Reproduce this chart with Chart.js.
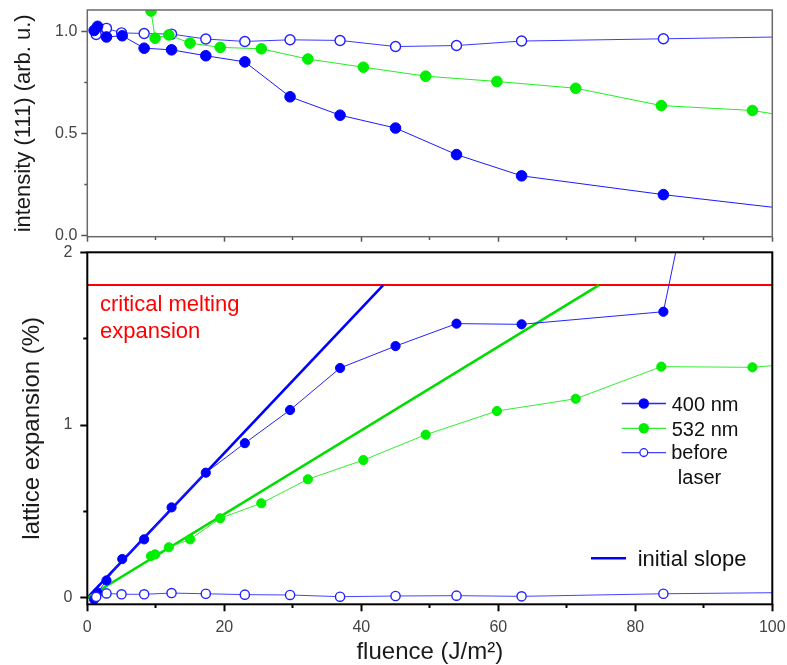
<!DOCTYPE html>
<html>
<head>
<meta charset="utf-8">
<script src="https://cdn.jsdelivr.net/npm/chart.js@4.4.1/dist/chart.umd.min.js"></script>
<style>
  html, body { margin: 0; padding: 0; background: #ffffff; }
  #wrap { position: relative; width: 787px; height: 665px; background: #ffffff; }
  #wrap canvas { position: absolute; left: 0; top: 0; }
</style>
</head>
<body>
<div id="wrap">
  <canvas id="topChart" width="787" height="665"></canvas>
  <canvas id="bottomChart" width="787" height="665"></canvas>
</div>
<script>
// ---------------- data ----------------
const fluence400   = [1.0, 1.5, 2.8, 5.1, 8.3, 12.3, 17.3, 23.0, 29.6, 36.9, 45.0, 53.9, 63.4, 84.1, 105];
const intensity400 = [1.005, 1.025, 0.973, 0.979, 0.918, 0.910, 0.881, 0.851, 0.680, 0.590, 0.527, 0.397, 0.293, 0.201, 0.12];
const expansion400 = [-0.01, 0.03, 0.10, 0.224, 0.338, 0.523, 0.724, 0.895, 1.087, 1.33, 1.457, 1.587, 1.583, 1.656, 5.65];

const fluence532   = [9.3, 9.9, 11.9, 15.0, 19.4, 25.4, 32.2, 40.3, 49.4, 59.8, 71.3, 83.8, 97.1, 105];
const intensity532 = [1.10, 0.967, 0.983, 0.943, 0.922, 0.915, 0.865, 0.825, 0.781, 0.755, 0.722, 0.637, 0.613, 0.57];
const expansion532 = [0.241, 0.251, 0.292, 0.338, 0.46, 0.547, 0.686, 0.797, 0.944, 1.081, 1.152, 1.338, 1.334, 1.36];

const fluenceBefore   = [1.3, 2.8, 5.0, 8.3, 12.3, 17.3, 23.0, 29.6, 36.9, 45.0, 53.9, 63.4, 84.1, 105];
const intensityBefore = [0.985, 1.015, 0.993, 0.99, 0.987, 0.963, 0.951, 0.959, 0.956, 0.926, 0.931, 0.953, 0.964, 0.975];
const expansionBefore = [0.005, 0.025, 0.02, 0.02, 0.027, 0.023, 0.018, 0.016, 0.006, 0.01, 0.012, 0.008, 0.023, 0.031];

const slope400X = [0, 43.2];
const slope400Y = [0, 1.81];
const slope532X = [0, 74.7];
const slope532Y = [0, 1.81];

const meltingX = [0, 100];
const meltingY = [1.81, 1.81];

// ticks
const xMajorTicks = [0, 20, 40, 60, 80, 100];
const xMajorLabels = ['0', '20', '40', '60', '80', '100'];
const xMinorTicks = [10, 30, 50, 70, 90];
const topYMajorTicks = [0, 0.5, 1.0];
const topYMajorLabels = ['0.0', '0.5', '1.0'];
const topYMinorTicks = [0.25, 0.75];
const botYMajorTicks = [0, 1, 2];
const botYMajorLabels = ['0', '1', '2'];
const botYMinorTicks = [0.5, 1.5];

// texts
const topYTitle = 'intensity (111) (arb. u.)';
const botYTitle = 'lattice expansion (%)';
const xTitle = 'fluence (J/m\u00B2)';
const meltingLabel = ['critical melting', 'expansion'];
const legend400 = '400 nm';
const legend532 = '532 nm';
const legendBefore = ['before', 'laser'];
const legendSlope = 'initial slope';

// ---------------- helpers ----------------
const FONT = "'Liberation Sans', Arial, Helvetica, sans-serif";
Chart.defaults.font.family = FONT;

function pts(xs, ys) { return xs.map((x, i) => ({ x: x, y: ys[i] })); }
function near(a, b) { return Math.abs(a - b) < 1e-9; }
function tickList(major, minor) {
  return major.concat(minor).sort((a, b) => a - b).map(v => ({ value: v }));
}
function labeler(major, labels) {
  return function (v) {
    const i = major.findIndex(m => near(m, v));
    return i >= 0 ? labels[i] : '';
  };
}
function isMinor(major, v) { return !major.some(m => near(m, v)); }
// left axis ticks are stroked outer->inner, bottom axis ticks inner->outer
function dashLeft(major, majorLen, minorLen) {
  return ctx => (ctx.tick && isMinor(major, ctx.tick.value)) ? [0, majorLen - minorLen, minorLen, 200] : [];
}
function dashBottom(major, minorLen) {
  return ctx => (ctx.tick && isMinor(major, ctx.tick.value)) ? [minorLen, 200] : [];
}

const framePlugin = {
  id: 'frame',
  afterDraw(chart, args, opts) {
    const { ctx, chartArea: a } = chart;
    ctx.save();
    ctx.strokeStyle = opts.color;
    ctx.lineWidth = opts.width;
    ctx.strokeRect(a.left, a.top, a.right - a.left, a.bottom - a.top);
    ctx.restore();
  }
};

// ---------------- top panel ----------------
new Chart(document.getElementById('topChart'), {
  type: 'scatter',
  data: {
    datasets: [
      {
        label: legend400, data: pts(fluence400, intensity400), showLine: true,
        borderColor: '#1a1aff', borderWidth: 1, pointRadius: 5.3,
        pointBackgroundColor: '#0000ff', pointBorderColor: '#0000ff', pointBorderWidth: 1, clip: 0, order: 1
      },
      {
        label: legend532, data: pts(fluence532, intensity532), showLine: true,
        borderColor: '#22ee22', borderWidth: 1, pointRadius: 5.3,
        pointBackgroundColor: '#00ee00', pointBorderColor: '#00ee00', pointBorderWidth: 1, clip: 0, order: 2
      },
      {
        label: legendBefore.join(' '), data: pts(fluenceBefore, intensityBefore), showLine: true,
        borderColor: '#3a3aff', borderWidth: 1, pointRadius: 5,
        pointBackgroundColor: '#ffffff', pointBorderColor: '#2222ff', pointBorderWidth: 1.4, clip: 0, order: 3
      }
    ]
  },
  options: {
    responsive: false,
    animation: false,
    events: [],
    layout: { padding: { top: 10, left: 0, right: 14.7, bottom: 418.3 } },
    plugins: {
      legend: { display: false },
      tooltip: { enabled: false },
      frame: { color: '#6a6a6a', width: 1.5 }
    },
    scales: {
      x: {
        type: 'linear', min: 0, max: 100,
        afterBuildTicks: s => { s.ticks = tickList(xMajorTicks, xMinorTicks); },
        afterFit: s => { s.height = 10; s.paddingLeft = 0; s.paddingRight = 0; },
        ticks: { autoSkip: false, callback: () => '' },
        grid: {
          drawOnChartArea: false, tickLength: 5, tickColor: '#555555', tickWidth: 1.5,
          tickBorderDash: dashBottom(xMajorTicks, 3)
        },
        border: { display: false }
      },
      y: {
        type: 'linear', min: -0.005, max: 1.105,
        afterBuildTicks: s => { s.ticks = tickList(topYMajorTicks, topYMinorTicks); },
        afterFit: s => { s.width = 87.3; s.paddingTop = 0; s.paddingBottom = 0; },
        ticks: {
          autoSkip: false, padding: 4, color: '#444444',
          font: { size: 16 },
          callback: labeler(topYMajorTicks, topYMajorLabels)
        },
        grid: {
          drawOnChartArea: false, tickLength: 6, tickColor: '#555555', tickWidth: 1.5,
          tickBorderDash: dashLeft(topYMajorTicks, 6, 3)
        },
        border: { display: false },
        title: {
          display: true, text: topYTitle, color: '#1a1a1a',
          font: { size: 22 }, padding: { top: 10.8, bottom: 0 }
        }
      }
    }
  },
  plugins: [framePlugin]
});

// ---------------- bottom panel ----------------
const annotPlugin = {
  id: 'annot',
  afterDraw(chart) {
    const { ctx, chartArea: a } = chart;
    const ys = chart.scales.y;
    ctx.save();
    // critical melting label (red), anchored under the red line
    const yMelt = ys.getPixelForValue(meltingY[0]);
    ctx.fillStyle = '#ff0000';
    ctx.font = '22px ' + FONT;
    ctx.textAlign = 'left';
    ctx.textBaseline = 'alphabetic';
    ctx.fillText(meltingLabel[0], a.left + 12.7, yMelt + 25.7);
    ctx.fillText(meltingLabel[1], a.left + 12.7, yMelt + 53);

    // legend
    const ds = chart.data.datasets;
    const rows = [
      { d: ds[3], y: 403.5, text: [legend400], r: 4.6 },
      { d: ds[4], y: 428.3, text: [legend532], r: 4.6 },
      { d: ds[5], y: 452.6, text: legendBefore, r: 3.9 }
    ];
    ctx.font = '20px ' + FONT;
    rows.forEach(row => {
      ctx.strokeStyle = row.d.borderColor;
      ctx.lineWidth = 1.3;
      ctx.beginPath();
      ctx.moveTo(621.7, row.y);
      ctx.lineTo(666, row.y);
      ctx.stroke();
      ctx.beginPath();
      ctx.arc(643.8, row.y, row.r, 0, Math.PI * 2);
      ctx.fillStyle = row.d.pointBackgroundColor;
      ctx.fill();
      ctx.lineWidth = 1.3;
      ctx.strokeStyle = row.d.pointBorderColor;
      ctx.stroke();
      ctx.fillStyle = '#111111';
      if (row.text.length === 1) {
        ctx.textAlign = 'left';
        ctx.fillText(row.text[0], 671.7, row.y + 7.2);
      } else {
        ctx.textAlign = 'center';
        ctx.fillText(row.text[0], 699.5, row.y + 6);
        ctx.fillText(row.text[1], 699.5, row.y + 31);
      }
    });
    // initial slope entry
    ctx.strokeStyle = ds[1].borderColor;
    ctx.lineWidth = 2.5;
    ctx.beginPath();
    ctx.moveTo(591, 558.3);
    ctx.lineTo(626, 558.3);
    ctx.stroke();
    ctx.font = '22px ' + FONT;
    ctx.fillStyle = '#111111';
    ctx.textAlign = 'left';
    ctx.fillText(legendSlope, 637.7, 565.7);
    ctx.restore();
  }
};

new Chart(document.getElementById('bottomChart'), {
  type: 'scatter',
  data: {
    datasets: [
      {
        label: 'critical melting expansion', data: pts(meltingX, meltingY), showLine: true,
        borderColor: '#ff0000', borderWidth: 2, pointRadius: 0, clip: 0, order: 6
      },
      {
        label: legendSlope + ' 400', data: pts(slope400X, slope400Y), showLine: true,
        borderColor: '#0000ff', borderWidth: 2.6, pointRadius: 0, clip: 0, order: 5
      },
      {
        label: legendSlope + ' 532', data: pts(slope532X, slope532Y), showLine: true,
        borderColor: '#00dd00', borderWidth: 2.6, pointRadius: 0, clip: 0, order: 4
      },
      {
        label: legend400, data: pts(fluence400, expansion400), showLine: true,
        borderColor: '#2424ff', borderWidth: 1, pointRadius: 4.6,
        pointBackgroundColor: '#0000ff', pointBorderColor: '#0000ff', pointBorderWidth: 1, clip: 0, order: 2
      },
      {
        label: legend532, data: pts(fluence532, expansion532), showLine: true,
        borderColor: '#33ee33', borderWidth: 1, pointRadius: 4.6,
        pointBackgroundColor: '#00ee00', pointBorderColor: '#00ee00', pointBorderWidth: 1, clip: 0, order: 3
      },
      {
        label: legendBefore.join(' '), data: pts(fluenceBefore, expansionBefore), showLine: true,
        borderColor: '#4444ff', borderWidth: 1, pointRadius: 4.6,
        pointBackgroundColor: '#ffffff', pointBorderColor: '#2222ff', pointBorderWidth: 1.4, clip: 0, order: 1
      }
    ]
  },
  options: {
    responsive: false,
    animation: false,
    events: [],
    layout: { padding: { top: 252.3, left: 0, right: 14.7, bottom: 0 } },
    plugins: {
      legend: { display: false },
      tooltip: { enabled: false },
      frame: { color: '#000000', width: 2 }
    },
    scales: {
      x: {
        type: 'linear', min: 0, max: 100,
        afterBuildTicks: s => { s.ticks = tickList(xMajorTicks, xMinorTicks); },
        afterFit: s => { s.height = 60.7; s.paddingLeft = 0; s.paddingRight = 0; },
        ticks: {
          autoSkip: false, maxRotation: 0, padding: 7, color: '#444444',
          font: { size: 16 },
          callback: labeler(xMajorTicks, xMajorLabels)
        },
        grid: {
          drawOnChartArea: false, tickLength: 7, tickColor: '#000000', tickWidth: 2,
          tickBorderDash: dashBottom(xMajorTicks, 4)
        },
        border: { display: false },
        title: {
          display: true, text: xTitle, color: '#1a1a1a',
          font: { size: 24, lineHeight: 1 }, padding: { top: 0, bottom: 1 }
        }
      },
      y: {
        type: 'linear', min: -0.038, max: 2,
        afterBuildTicks: s => { s.ticks = tickList(botYMajorTicks, botYMinorTicks); },
        afterFit: s => { s.width = 87.3; s.paddingTop = 0; s.paddingBottom = 0; },
        ticks: {
          autoSkip: false, padding: 8, color: '#444444',
          font: { size: 16 },
          callback: labeler(botYMajorTicks, botYMajorLabels)
        },
        grid: {
          drawOnChartArea: false, tickLength: 7, tickColor: '#000000', tickWidth: 2,
          tickBorderDash: dashLeft(botYMajorTicks, 7, 4)
        },
        border: { display: false },
        title: {
          display: true, text: botYTitle, color: '#1a1a1a',
          font: { size: 24 }, padding: { top: 17.6, bottom: 0 }
        }
      }
    }
  },
  plugins: [framePlugin, annotPlugin]
});
</script>
</body>
</html>
